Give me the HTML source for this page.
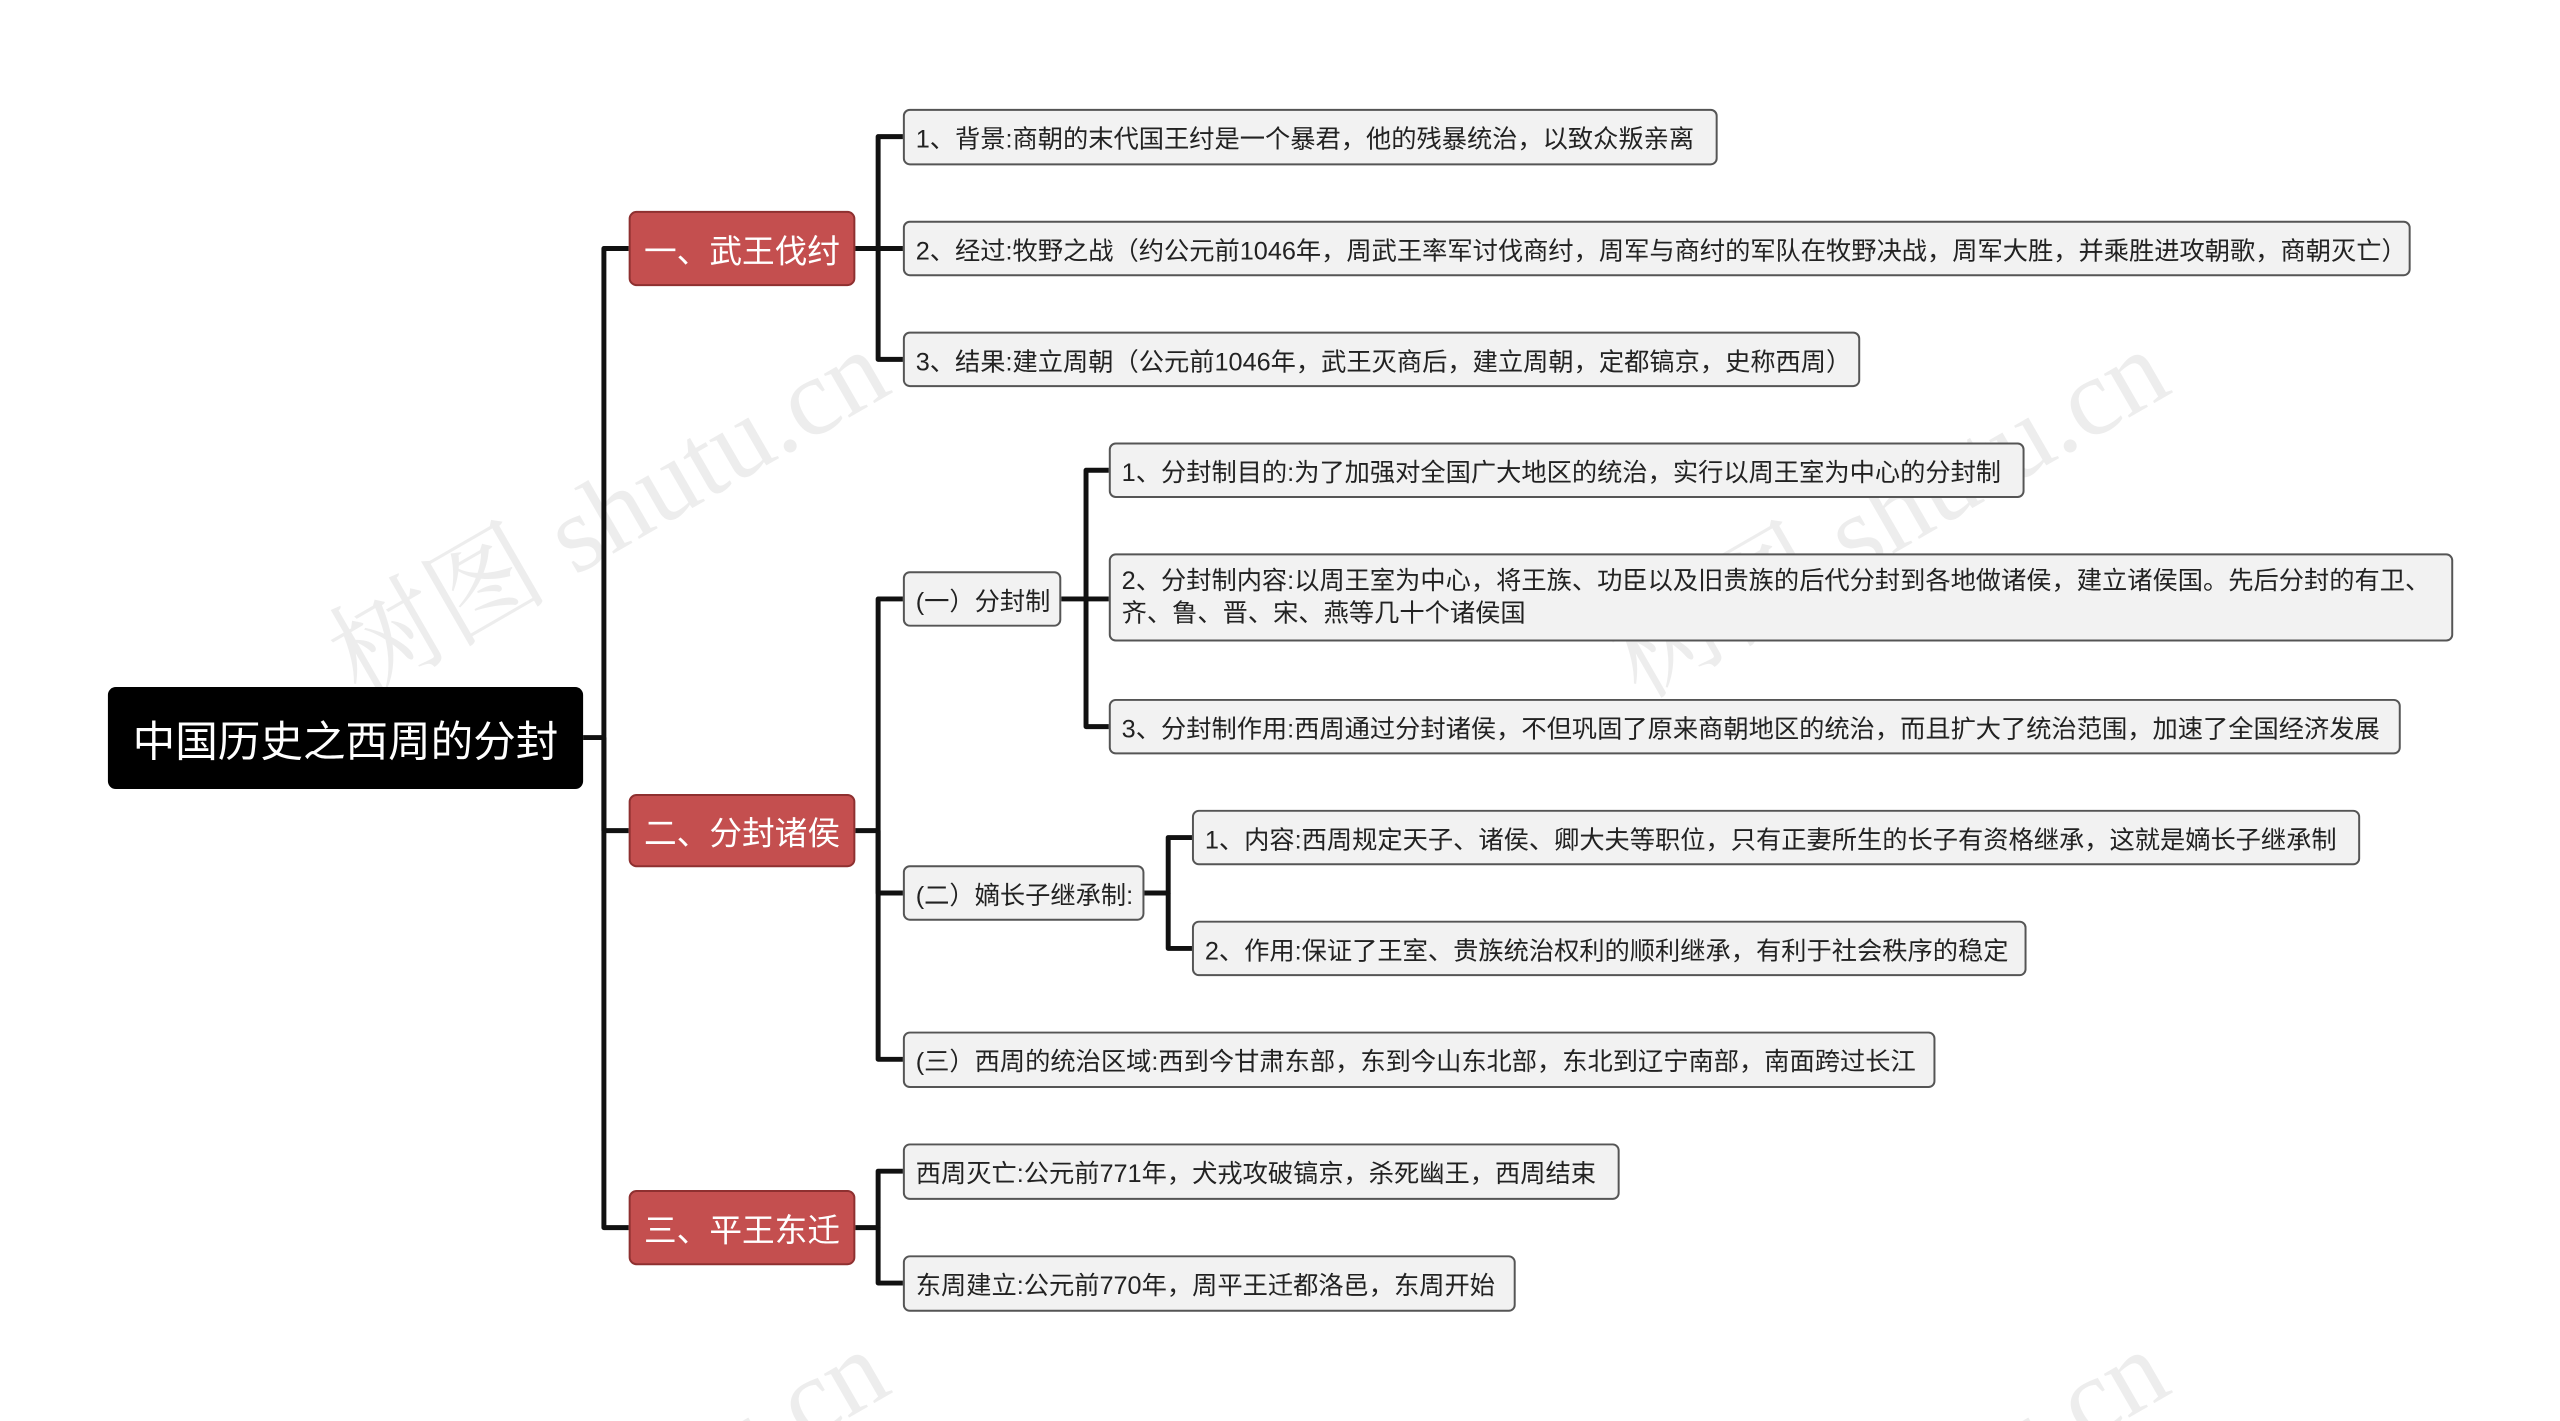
<!DOCTYPE html>
<html style="margin:0;width:2560px;height:1421px;overflow:hidden;"><head><meta charset="utf-8">
<style>
html,body{margin:0;width:2560px;height:1421px;overflow:hidden;}
body{background:#fff;position:relative;font-family:"Liberation Sans","Noto Sans CJK SC",sans-serif;}
#wrap{position:absolute;left:0;top:0;width:2560px;height:1421px;overflow:hidden;}
#c{position:absolute;left:0;top:0;width:2560px;height:1421px;transform:scale(0.99);transform-origin:0 0;}
.b{position:absolute;box-sizing:border-box;}
.root{background:#000;color:#fff;border-radius:8px;font-size:43px;display:flex;align-items:center;justify-content:center;}
.l1{background:#c44f4f;border:2px solid #8e3030;color:#fff;border-radius:8px;font-size:33px;display:flex;align-items:center;justify-content:center;}
.lf{background:#f2f2f2;border:2px solid #555;border-radius:7px;font-size:25.5px;color:#222;padding:0 11px;display:flex;align-items:center;white-space:nowrap;}
.lf.m{line-height:33px;}
</style></head><body><div id="wrap">
<svg width="2560" height="1421" style="position:absolute;left:0;top:0;overflow:hidden" font-family="Liberation Serif, Noto Serif CJK SC, serif" font-size="110" fill="rgba(0,0,0,0.07)">
<text x="360" y="700" transform="rotate(-30 360 700)">树图 shutu.cn</text>
<text x="1640" y="700" transform="rotate(-30 1640 700)">树图 shutu.cn</text>
<text x="360" y="1700" transform="rotate(-30 360 1700)">树图 shutu.cn</text>
<text x="1640" y="1700" transform="rotate(-30 1640 1700)">树图 shutu.cn</text>
</svg>
<div id="c">
<svg width="2560" height="1421" style="position:absolute;left:0;top:0" fill="none" stroke="#111" stroke-width="5" stroke-linejoin="round">
<polyline points="589,745 610,745 610,251 635,251"/>
<polyline points="610,745 610,839 635,839"/>
<polyline points="610,745 610,1240 635,1240"/>
<polyline points="864,251 887,251 887,138 912,138"/>
<polyline points="864,251 912,251"/>
<polyline points="887,251 887,363 912,363"/>
<polyline points="864,839 887,839 887,605 912,605"/>
<polyline points="887,839 887,902 912,902"/>
<polyline points="887,839 887,1070 912,1070"/>
<polyline points="864,1240 887,1240 887,1183 912,1183"/>
<polyline points="887,1240 887,1296 912,1296"/>
<polyline points="1072,605 1097,605 1097,475 1120,475"/>
<polyline points="1097,605 1120,605"/>
<polyline points="1097,605 1097,734 1120,734"/>
<polyline points="1156,902 1180,902 1180,846 1204,846"/>
<polyline points="1180,902 1180,958 1204,958"/>
</svg>
<div class="b root" style="left:109px;top:694px;width:480px;height:103px;">中国历史之西周的分封</div>
<div class="b l1" style="left:635px;top:213px;width:229px;height:76px;">一、武王伐纣</div>
<div class="b l1" style="left:635px;top:802px;width:229px;height:74px;">二、分封诸侯</div>
<div class="b l1" style="left:635px;top:1202px;width:229px;height:76px;">三、平王东迁</div>
<div class="b lf" style="left:912px;top:110px;width:823px;height:57px;">1、背景:商朝的末代国王纣是一个暴君，他的残暴统治，以致众叛亲离</div>
<div class="b lf" style="left:912px;top:223px;width:1523px;height:56px;">2、经过:牧野之战（约公元前1046年，周武王率军讨伐商纣，周军与商纣的军队在牧野决战，周军大胜，并乘胜进攻朝歌，商朝灭亡）</div>
<div class="b lf" style="left:912px;top:335px;width:967px;height:56px;">3、结果:建立周朝（公元前1046年，武王灭商后，建立周朝，定都镐京，史称西周）</div>
<div class="b lf" style="left:912px;top:577px;width:160px;height:56px;">(一）分封制</div>
<div class="b lf" style="left:1120px;top:447px;width:925px;height:56px;">1、分封制目的:为了加强对全国广大地区的统治，实行以周王室为中心的分封制</div>
<div class="b lf m" style="left:1120px;top:559px;width:1358px;height:89px;">2、分封制内容:以周王室为中心，将王族、功臣以及旧贵族的后代分封到各地做诸侯，建立诸侯国。先后分封的有卫、<br>齐、鲁、晋、宋、燕等几十个诸侯国</div>
<div class="b lf" style="left:1120px;top:706px;width:1305px;height:56px;">3、分封制作用:西周通过分封诸侯，不但巩固了原来商朝地区的统治，而且扩大了统治范围，加速了全国经济发展</div>
<div class="b lf" style="left:912px;top:874px;width:244px;height:56px;">(二）嫡长子继承制:</div>
<div class="b lf" style="left:1204px;top:818px;width:1180px;height:56px;">1、内容:西周规定天子、诸侯、卿大夫等职位，只有正妻所生的长子有资格继承，这就是嫡长子继承制</div>
<div class="b lf" style="left:1204px;top:930px;width:843px;height:56px;">2、作用:保证了王室、贵族统治权利的顺利继承，有利于社会秩序的稳定</div>
<div class="b lf" style="left:912px;top:1042px;width:1043px;height:57px;">(三）西周的统治区域:西到今甘肃东部，东到今山东北部，东北到辽宁南部，南面跨过长江</div>
<div class="b lf" style="left:912px;top:1155px;width:724px;height:57px;">西周灭亡:公元前771年，犬戎攻破镐京，杀死幽王，西周结束</div>
<div class="b lf" style="left:912px;top:1268px;width:619px;height:57px;">东周建立:公元前770年，周平王迁都洛邑，东周开始</div>
</div>
</div></body></html>
